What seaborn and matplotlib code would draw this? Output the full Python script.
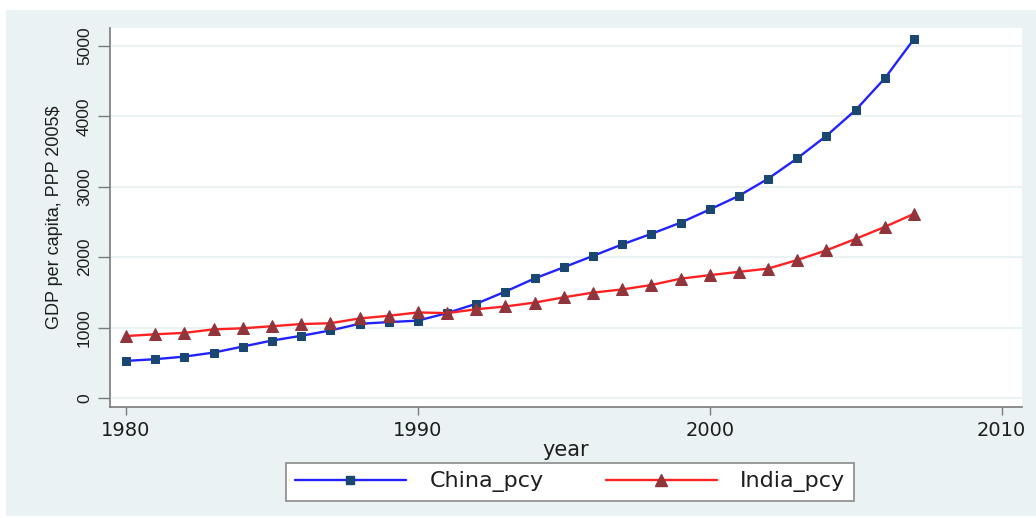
import matplotlib
matplotlib.use("Agg")
import matplotlib.pyplot as plt
import seaborn as sns
import pandas as pd
from matplotlib.patches import Rectangle
from matplotlib.lines import Line2D

# GDP per capita, PPP 2005$
years = list(range(1980, 2008))
china_pcy = [527, 551, 588, 645, 731, 816, 883, 959, 1054, 1078, 1099, 1206,
             1339, 1512, 1698, 1857, 2018, 2182, 2332, 2490, 2678, 2872,
             3115, 3405, 3725, 4090, 4542, 5100]
india_pcy = [880, 905, 925, 975, 990, 1020, 1050, 1062, 1130, 1168, 1215, 1206,
             1260, 1300, 1355, 1430, 1497, 1542, 1605, 1695, 1745, 1792,
             1838, 1960, 2098, 2260, 2431, 2616]
series_names = ["China_pcy", "India_pcy"]
x_ticks = [1980, 1990, 2000, 2010]
y_ticks = [0, 1000, 2000, 3000, 4000, 5000]

df = pd.DataFrame({"year": years, "China_pcy": china_pcy, "India_pcy": india_pcy})

sns.set_theme(style="white")
plt.rcParams["font.family"] = ["DejaVu Sans"]
narrow = ["Liberation Sans", "DejaVu Sans"]
ink = "#1e1e1e"

W, H = 1036, 518
fig = plt.figure(figsize=(W / 100, H / 100), dpi=100, facecolor="white")

# light outer graph region
bg = "#EAF2F3"
fig.patches.append(Rectangle((6 / W, 1 - 516 / H), (W - 6) / W, (516 - 10) / H,
                             transform=fig.transFigure, facecolor=bg,
                             edgecolor="none", zorder=-10))

ax = fig.add_axes([110 / W, 1 - 407 / H, (1022 - 110) / W, (407 - 28) / H])
ax.set_zorder(1)
ax.set_facecolor("white")

styles = {
    "China_pcy": dict(color="#2222FF", marker="s", mfc="#1A476F", mec="#1A476F", ms=6),
    "India_pcy": dict(color="#FF2222", marker="^", mfc="#90353B", mec="#90353B", ms=9),
}
for name in series_names:
    st = styles[name]
    sns.lineplot(data=df, x="year", y=name, ax=ax, color=st["color"], linewidth=1.7,
                 marker=st["marker"], markerfacecolor=st["mfc"],
                 markeredgecolor=st["mec"], markersize=st["ms"], zorder=3)

ax.set_xlim(1979.45, 2010.7)
ax.set_ylim(-128, 5256)
ax.set_xticks(x_ticks)
ax.set_yticks(y_ticks)
ax.set_xticklabels([str(t) for t in x_ticks], fontsize=14, color=ink)
ax.set_yticklabels([str(t) for t in y_ticks], fontsize=12.5, rotation=90,
                   va="center", color=ink, family=narrow)
for t in y_ticks:
    ax.axhline(t, color=bg, linewidth=1.5, zorder=1)

for s in ["top", "right"]:
    ax.spines[s].set_visible(False)
for s in ["left", "bottom"]:
    ax.spines[s].set_color("#7a7a7a")
    ax.spines[s].set_linewidth(1.2)
ax.tick_params(axis="x", direction="out", length=6, width=1, color="#7a7a7a",
               bottom=True, pad=4)
ax.tick_params(axis="y", direction="out", length=9, width=1, color="#7a7a7a",
               left=True, pad=4)

ax.set_xlabel("year", fontsize=15, color=ink, labelpad=0)
ax.set_ylabel("GDP per capita, PPP 2005$", fontsize=13, color=ink, labelpad=10,
              family=narrow)

handles = [Line2D([], [], color=styles[n]["color"], linewidth=1.7,
                  marker=styles[n]["marker"], markerfacecolor=styles[n]["mfc"],
                  markeredgecolor=styles[n]["mec"], markersize=styles[n]["ms"] * 0.9)
           for n in series_names]
leg = fig.legend(handles, series_names, loc="center", ncol=2, numpoints=1,
                 bbox_to_anchor=(570 / W, 1 - 482 / H), fontsize=16,
                 handlelength=5.0, columnspacing=2.8, handletextpad=1.05,
                 frameon=True, fancybox=False, borderpad=0.4)
leg.get_frame().set_edgecolor("#8a8a8a")
leg.get_frame().set_linewidth(1.2)
leg.get_frame().set_facecolor("white")
leg.get_frame().set_alpha(1)
for txt in leg.get_texts():
    txt.set_color(ink)

fig.savefig("out.png", dpi=100, facecolor="white")
